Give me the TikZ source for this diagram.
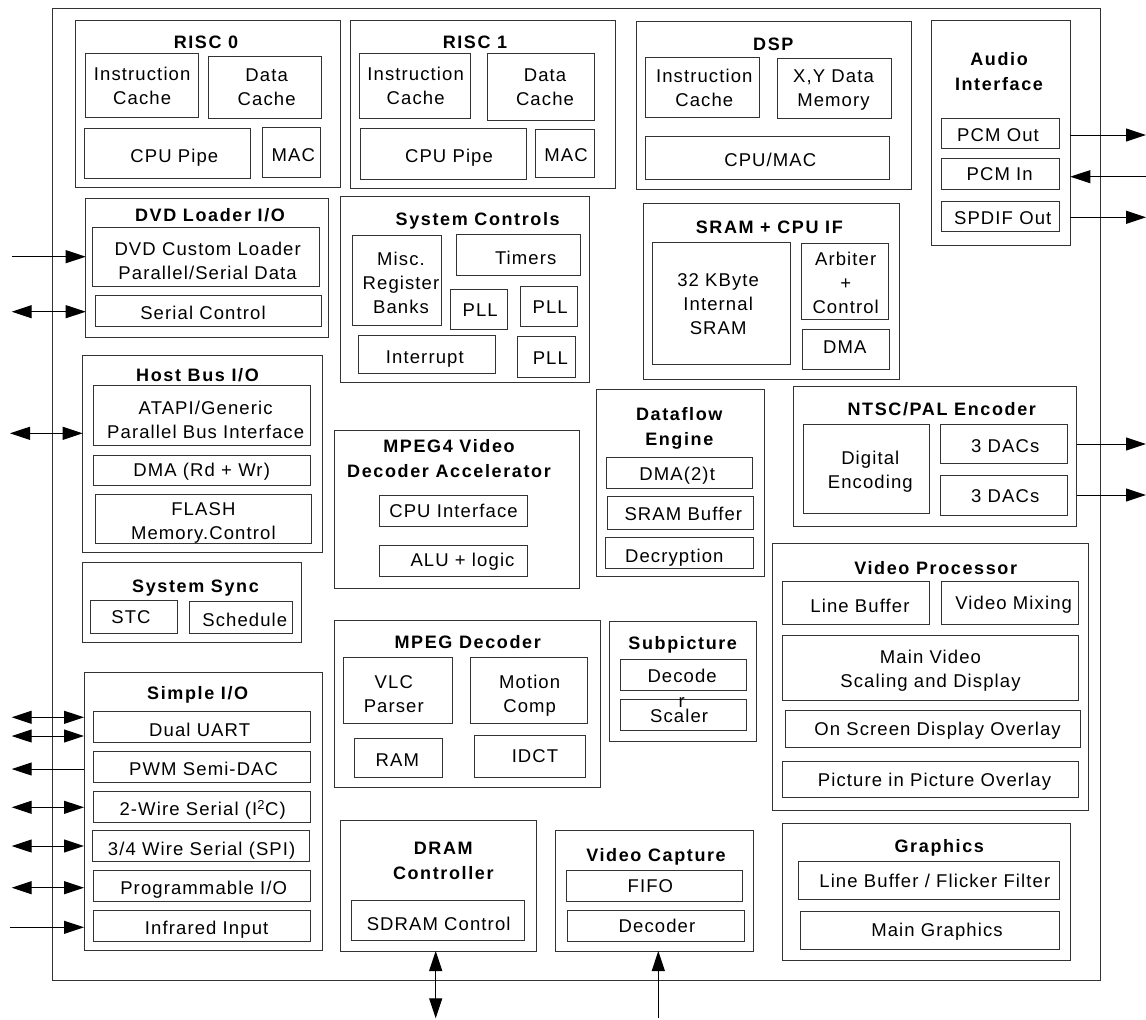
\documentclass[tikz,border=0pt]{standalone}
\usepackage{fontspec}
\setmainfont{Liberation Sans}[LetterSpace=6]
\newfontfamily\ttlfont{Liberation Sans}[LetterSpace=9]
\usetikzlibrary{arrows.meta,calc}
\tikzset{
  bx/.style={draw=black!80, line width=1pt, inner sep=0pt, outer sep=0pt, rectangle},
  txt/.style={font=\fontsize{18.5}{24}\selectfont, align=center, inner sep=0pt, text depth=0pt},
  ttl/.style={font=\ttlfont\bfseries\fontsize{18}{25}\selectfont, align=center, inner sep=0pt, text depth=0pt},
  arr/.style={-{Triangle[length=20pt,width=13pt]}, line width=1pt},
  darr/.style={{Triangle[length=20pt,width=13pt]}-{Triangle[length=20pt,width=13pt]}, line width=1pt},
}
\newcommand\contbox[5]{\node[bx, minimum width={#4pt-#2pt}, minimum height={#5pt-#3pt}] (#1) at ({(#2+#4)/2},{(#3+#5)/2}) {};}
\newcommand\mybox[7][0,0]{\contbox{#2}{#3}{#4}{#5}{#6}\node[txt] (#2-t) at ($(#2.center)+(#1)$) {#7};}
\begin{document}
\begin{tikzpicture}[x=1pt,y=-1pt]
\fill[white] (0,0) rectangle (1146,1020);
\useasboundingbox (0,0) rectangle (1146,1020);

% outer chip
\contbox{chip}{52.3}{8.3}{1100.3}{980}

% containers
\contbox{risc0}{75}{20.7}{340}{187.7}
\contbox{risc1}{350.7}{20.7}{615.7}{188.3}
\contbox{dsp}{636.7}{21.7}{911.7}{189}
\contbox{audio}{931.7}{20.7}{1070.3}{245}
\contbox{dvd}{85.7}{198.3}{328}{337.3}
\contbox{sysc}{340}{196.7}{589}{382.3}
\contbox{sram}{643.3}{203.3}{899.3}{379.3}
\contbox{host}{82.7}{355}{322.7}{552.3}
\contbox{mpeg4}{334.3}{430}{579.3}{588.3}
\contbox{dfe}{596.7}{389.3}{764.3}{576}
\contbox{ntsc}{793.3}{386}{1076.7}{526.7}
\contbox{ssync}{82.7}{562.7}{301.3}{642.3}
\contbox{vp}{772.3}{543.3}{1088.3}{810}
\contbox{mpeg}{334.3}{620.7}{600.7}{787.3}
\contbox{subp}{609.3}{621.7}{756}{741.7}
\contbox{sio}{84}{672.7}{322.3}{950.7}
\contbox{dram}{340}{820}{536}{951}
\contbox{vcap}{555.7}{830.7}{753.3}{951}
\contbox{gfx}{782.7}{823.3}{1070.7}{960}

% titles
\node[ttl] (t-risc0) at (206,42) {RISC 0};
\node[ttl] (t-risc1) at (475,42) {RISC 1};
\node[ttl] (t-dsp) at (773.3,44) {DSP};
\node[ttl] (t-audio) at (999,71.8) {Audio\\Interface};
\node[ttl] (t-dvd) at (210,215) {DVD Loader I/O};
\node[ttl] (t-sysc) at (477.7,219) {System Controls};
\node[ttl] (t-sram) at (769.3,227.3) {SRAM + CPU IF};
\node[ttl] (t-host) at (197.5,375) {Host Bus I/O};
\node[ttl] (t-mpeg4) at (449,458.8) {MPEG4 Video\\Decoder Accelerator};
\node[ttl] (t-dfe) at (679.3,426.7) {Dataflow\\Engine};
\node[ttl] (t-ntsc) at (941.7,409.3) {NTSC/PAL Encoder};
\node[ttl] (t-ssync) at (195.5,586.7) {System Sync};
\node[ttl] (t-vp) at (935.7,568.3) {Video Processor};
\node[ttl] (t-mpeg) at (467.7,641.7) {MPEG Decoder};
\node[ttl] (t-subp) at (682.7,643.3) {Subpicture};
\node[ttl] (t-sio) at (197.7,692.7) {Simple I/O};
\node[ttl] (t-dram) at (443.3,860.5) {DRAM\\Controller};
\node[ttl] (t-vcap) at (656,855) {Video Capture};
\node[ttl] (t-gfx) at (939.3,845.7) {Graphics};

% inner boxes
\mybox{r0ic}{85.7}{53.3}{198.7}{117.3}{Instruction\\Cache}
\mybox[2,0]{r0dc}{208.3}{56}{321}{118.3}{Data\\Cache}
\mybox[7,2]{r0cpu}{84.3}{128.3}{250.3}{178.7}{CPU Pipe}
\mybox[2,3]{r0mac}{262.3}{127.3}{320.3}{177.3}{MAC}
\mybox[1,0]{r1ic}{359.3}{53.3}{470}{118.3}{Instruction\\Cache}
\mybox[4,0]{r1dc}{487.7}{53.3}{594.3}{120}{Data\\Cache}
\mybox[6,2]{r1cpu}{360}{128.3}{526}{179}{CPU Pipe}
\mybox[1,2]{r1mac}{535.7}{129}{594.3}{177.3}{MAC}
\mybox[2,0]{dspic}{645.3}{57.7}{759.3}{117.3}{Instruction\\Cache}
\mybox[-1,0]{dspxy}{777.3}{58.3}{891.7}{118.3}{X,Y Data\\Memory}
\mybox[3,2]{dspcpu}{645.3}{136.7}{889.3}{179}{CPU/MAC}
\mybox[-2,2]{pcmo}{941}{118.3}{1059}{148.3}{PCM Out}
\mybox[-1,0]{pcmi}{941.7}{158.3}{1059.7}{189}{PCM In}
\mybox[2,2]{spdif}{941.7}{201}{1059.7}{231}{SPDIF Out}
\mybox[2,4]{dvdc}{92.3}{227.3}{319}{286}{DVD Custom Loader\\Parallel/Serial Data}
\mybox[-5,2]{serc}{95}{295.3}{321}{326.7}{Serial Control}
\mybox[4,2]{misc}{352.3}{235.7}{441.7}{325}{Misc.\\Register\\Banks}
\mybox[7,3]{timers}{456.7}{234.3}{580.7}{275.7}{Timers}
\mybox[1,1]{pll1}{450.7}{289.3}{507.7}{329}{PLL}
\mybox[1,1]{pll2}{520.7}{286}{577.7}{326}{PLL}
\mybox[-2,3]{intr}{358}{335.7}{495.7}{373.3}{Interrupt}
\mybox[4,1]{pll3}{517.7}{336.7}{575}{377.3}{PLL}
\mybox[-3,1]{ksram}{652.3}{242.7}{790}{364}{32 KByte\\Internal\\SRAM}
\mybox[1,2]{arb}{801}{243.3}{888.3}{319}{Arbiter\\+\\Control}
\mybox[-1,-2]{sdma}{802.3}{329.3}{889.3}{369.3}{DMA}
\mybox[4,4]{atapi}{93.3}{385.7}{310}{445}{ATAPI/Generic\\Parallel Bus Interface}
\mybox{hdma}{93.3}{455}{310}{485}{DMA (Rd + Wr)}
\mybox[0,2]{flash}{95}{494.3}{311.7}{543.3}{FLASH\\Memory.Control}
\mybox[-3,0]{stc}{90.7}{600.7}{177.3}{633.3}{STC}
\mybox[4,2]{sched}{189.3}{601.7}{292.3}{633.3}{Schedule}
\mybox{cpuif}{379.3}{495}{527.7}{526.7}{CPU Interface}
\mybox[9,-1]{alu}{379.3}{545}{527.7}{576.7}{ALU + logic}
\mybox[-2,1]{dma2}{606}{457.7}{752.3}{488.3}{DMA(2)t}
\mybox[3,1]{sbuf}{607.3}{496.7}{753.3}{529}{SRAM Buffer}
\mybox[-5,3]{decr}{605.3}{537.3}{753.3}{568.3}{Decryption}
\mybox[-4,4]{vlc}{343.3}{657.3}{452.3}{723.3}{VLC\\Parser}
\mybox[1,3]{motion}{470}{657.3}{587.3}{723.3}{Motion\\Comp}
\mybox[-1,2]{ram}{354.3}{738.3}{442.3}{777.3}{RAM}
\mybox[5,0]{idct}{474.3}{735.7}{585.7}{777.3}{IDCT}
\mybox[-1,1]{sdec}{620.3}{659}{746}{690}{Decode}
\mybox[-4,1]{scal}{620.3}{699}{746}{730}{Scaler}
\node[txt] (stray-r) at (681.7,702.5) {r};
\mybox[4,1]{denc}{803.3}{424}{929.3}{513.3}{Digital\\Encoding}
\mybox[1,2]{dac1}{940.7}{424.3}{1067.7}{463.3}{3 DACs}
\mybox[1,1]{dac2}{940.7}{475.7}{1067.7}{515}{3 DACs}
\mybox[4,3]{lbuf}{782.7}{581.7}{929.3}{624.3}{Line Buffer}
\mybox[4,0]{vmix}{941}{581.7}{1078.3}{624.3}{Video Mixing}
\mybox[0,1]{mainv}{782.7}{635}{1078.3}{700.7}{Main Video\\Scaling and Display}
\mybox[5,0]{osd}{785}{710.7}{1080}{747.3}{On Screen Display Overlay}
\mybox[4,0]{pip}{782.7}{761}{1078.3}{797.7}{Picture in Picture Overlay}
\mybox[-2,3]{uart}{93.3}{711.7}{310}{742.3}{Dual UART}
\mybox[2,2]{pwm}{93.3}{751.7}{310}{782.3}{PWM Semi-DAC}
\mybox[1,1]{i2c}{93.3}{791.7}{310}{822.7}{2-Wire Serial (I\textsuperscript{2}C)}
\mybox[1,3]{spi}{92.3}{830.7}{309}{861}{3/4 Wire Serial (SPI)}
\mybox[2,2]{pio}{93.3}{870.3}{310}{901}{Programmable I/O}
\mybox[5,2]{ir}{93.3}{910}{310}{941}{Infrared Input}
\mybox[1,3]{sdram}{351}{900.7}{524.3}{940}{SDRAM Control}
\mybox[-4,1]{fifo}{566}{870}{742.7}{901}{FIFO}
\mybox[1,0]{vdec}{567.7}{910}{744.3}{941}{Decoder}
\mybox[6,1]{lbff}{798.3}{861}{1059.3}{899.3}{Line Buffer / Flicker Filter}
\mybox[7,0]{mgfx}{800.7}{911}{1059.3}{949.3}{Main Graphics}

% external connectors
\coordinate (l-dvd) at (11.7,256.7);
\coordinate (l-ser) at (11.7,311.7);
\coordinate (l-host) at (10,433.3);
\coordinate (l-u1) at (11.7,717.3);
\coordinate (l-u2) at (11.7,736);
\coordinate (l-pwm) at (11.7,769);
\coordinate (l-i2c) at (11.7,807.3);
\coordinate (l-spi) at (11.7,846);
\coordinate (l-pio) at (11.7,887.7);
\coordinate (l-ir) at (10,927.3);
\draw[arr] (l-dvd) -- (l-dvd -| dvd.west);
\draw[darr] (l-ser) -- (l-ser -| dvd.west);
\draw[darr] (l-host) -- (l-host -| host.west);
\draw[darr] (l-u1) -- (l-u1 -| sio.west);
\draw[darr] (l-u2) -- (l-u2 -| sio.west);
\draw[arr] (l-pwm -| sio.west) -- (l-pwm);
\draw[darr] (l-i2c) -- (l-i2c -| sio.west);
\draw[darr] (l-spi) -- (l-spi -| sio.west);
\draw[darr] (l-pio) -- (l-pio -| sio.west);
\draw[arr] (l-ir) -- (l-ir -| sio.west);

\coordinate (r-pcmo) at (1146,135);
\coordinate (r-pcmi) at (1146,176.7);
\coordinate (r-spdif) at (1146,217.3);
\coordinate (r-dac1) at (1146,444);
\coordinate (r-dac2) at (1146,495);
\draw[arr] (r-pcmo -| audio.east) -- (r-pcmo);
\draw[arr] (r-pcmi) -- (r-pcmi -| audio.east);
\draw[arr] (r-spdif -| audio.east) -- (r-spdif);
\draw[arr] (r-dac1 -| ntsc.east) -- (r-dac1);
\draw[arr] (r-dac2 -| ntsc.east) -- (r-dac2);

\coordinate (b-dram) at (435.7,1018.3);
\coordinate (b-vcap) at (658.3,1018.3);
\draw[darr] (dram.south -| b-dram) -- (b-dram);
\draw[arr] (b-vcap) -- (b-vcap |- vcap.south);
\end{tikzpicture}
\end{document}
